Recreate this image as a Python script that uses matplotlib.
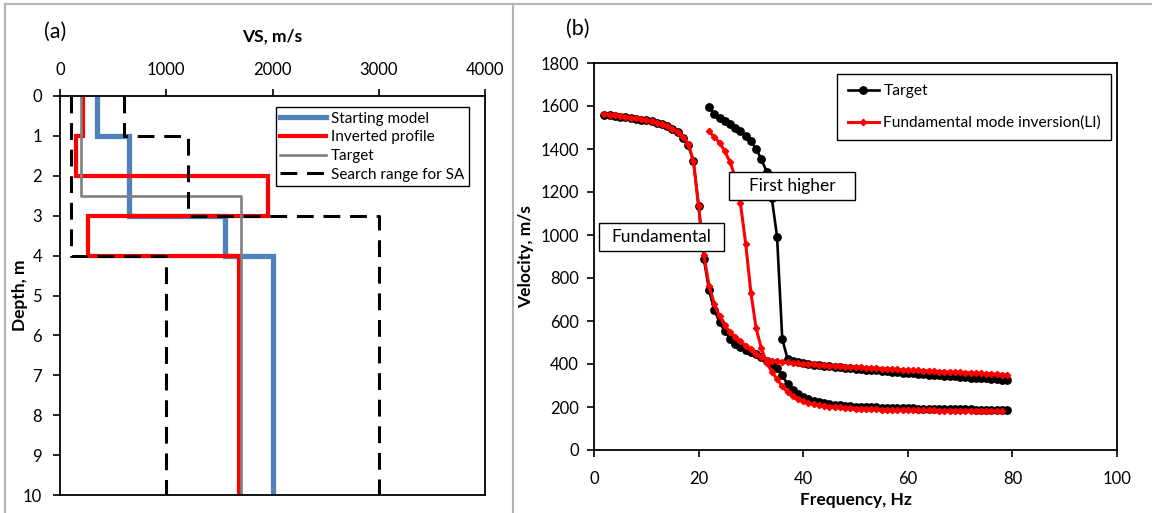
import numpy as np
import matplotlib
matplotlib.use("Agg")
import matplotlib.pyplot as plt
from matplotlib.lines import Line2D
from matplotlib.patches import Rectangle

plt.rcParams["font.family"] = ["Lato", "DejaVu Sans"]

# ---- panel (a): layered Vs profiles (layer tops in m, Vs in m/s)
start_tops = [0, 1, 3, 4]
start_vs = [350, 650, 1550, 2000]
inv_tops = [0, 1, 2, 3, 4]
inv_vs = [215, 150, 1960, 260, 1680]
target_tops = [0, 2.5]
target_vs = [195, 1700]
sa_low_tops = [0, 4]
sa_low_vs = [100, 1000]
sa_high_tops = [0, 1, 3]
sa_high_vs = [600, 1200, 3000]
max_depth = 10

# ---- panel (b): dispersion curves
freq_fund = list(range(2, 80))
target_fund = [
    1560, 1557, 1554, 1551, 1548, 1545, 1541, 1537, 1533, 1528,
    1522, 1515, 1506, 1494, 1477, 1452, 1418, 1345, 1135, 890,
    744, 651, 595, 552, 518, 494, 478, 467, 457, 446,
    432, 416, 400, 380, 347, 305, 279, 260, 246, 236,
    228, 222, 217, 213, 210, 207, 205, 203, 202, 201,
    200, 199, 198, 197, 197, 196, 195, 195, 194, 194,
    193, 193, 192, 192, 191, 191, 190, 190, 190, 189,
    189, 188, 188, 188, 187, 187, 187, 186,
]
li_fund = [
    1563, 1559, 1556, 1553, 1550, 1546, 1542, 1538, 1534, 1529,
    1523, 1516, 1507, 1495, 1478, 1455, 1425, 1346, 1135, 905,
    765, 680, 622, 580, 550, 525, 505, 486, 468, 448,
    431, 420, 415, 412, 410, 407, 405, 403, 401, 399,
    398, 396, 395, 393, 391, 390, 388, 387, 385, 384,
    383, 381, 380, 379, 377, 376, 375, 373, 372, 371,
    370, 369, 368, 366, 365, 364, 363, 362, 361, 360,
    359, 358, 356, 355, 354, 353, 351, 350,
]
freq_high = list(range(22, 80))
target_high = [
    1594, 1563, 1545, 1530, 1516, 1500, 1483, 1460, 1435, 1402,
    1352, 1295, 1170, 993, 515, 425, 412, 407, 403, 400,
    397, 394, 391, 389, 386, 384, 382, 380, 378, 376,
    374, 372, 370, 368, 366, 364, 362, 360, 358, 356,
    354, 352, 350, 349, 347, 346, 344, 342, 341, 339,
    337, 336, 334, 333, 331, 329, 327, 325,
]
freq_high_li = list(range(22, 79))
li_high = [
    1482, 1456, 1430, 1390, 1340, 1270, 1147, 960, 732, 566,
    473, 405, 365, 330, 296, 268, 250, 237, 226, 218,
    212, 207, 204, 202, 200, 198, 196, 194, 193, 192,
    191, 190, 189, 188, 187, 187, 186, 186, 185, 185,
    185, 184, 184, 184, 183, 183, 183, 183, 182, 182,
    182, 182, 182, 181, 181, 181, 181,
]


def step_profile(tops, vels, bottom):
    bottoms = list(tops[1:]) + [bottom]
    depth = np.column_stack([tops, bottoms]).ravel()
    vs = np.repeat(vels, 2)
    return vs, depth


def boxed_label(ax, text, x0, x1, y0, y1):
    ax.add_patch(Rectangle((x0, y0), x1 - x0, y1 - y0, fc="white", ec="black",
                           lw=1.0, zorder=5))
    ax.text((x0 + x1) / 2, (y0 + y1) / 2, text, fontsize=12.5, ha="center",
            va="center", zorder=6)


def place_labels(ax, x_pos, y_pos):
    ax.xaxis.set_label_coords(*x_pos)
    ax.yaxis.set_label_coords(*y_pos)
    ax.xaxis.label.set_va("center")
    ax.yaxis.label.set_va("center")


def plot_profiles(ax):
    x, y = step_profile(start_tops, start_vs, max_depth)
    ax.plot(x, y, color="#4F81BD", lw=3.8, label="Starting model", solid_joinstyle="miter")
    x, y = step_profile(inv_tops, inv_vs, max_depth)
    ax.plot(x, y, color="#FF0000", lw=3.0, label="Inverted profile", solid_joinstyle="miter")
    x, y = step_profile(target_tops, target_vs, max_depth)
    ax.plot(x, y, color="#808080", lw=1.9, label="Target")
    dash = dict(color="black", lw=2.2, dashes=(5.5, 3.2))
    x, y = step_profile(sa_low_tops, sa_low_vs, max_depth)
    ax.plot(x, y, label="Search range for SA", **dash)
    x, y = step_profile(sa_high_tops, sa_high_vs, max_depth)
    ax.plot(x, y, **dash)

    ax.set_xlim(0, 4000)
    ax.set_ylim(10, 0)
    ax.set_xticks([0, 1000, 2000, 3000, 4000])
    ax.set_yticks(range(0, 11))
    ax.xaxis.tick_top()
    ax.xaxis.set_label_position("top")
    ax.tick_params(direction="out", length=5, width=1.2, labelsize=12, pad=8)
    ax.set_xlabel("VS, m/s", fontweight="bold", fontsize=12.5)
    ax.set_ylabel("Depth, m", fontweight="bold", fontsize=12.5)
    place_labels(ax, (0.5, 1 + 59 / 399), (-40 / 425, 0.5))
    for s in ax.spines.values():
        s.set_linewidth(1.3)
    leg = ax.legend(loc="upper right", bbox_to_anchor=(0.962, 0.972), borderaxespad=0,
                    fontsize=11, handlelength=3.0, handletextpad=0.3,
                    labelspacing=0.3, borderpad=0.3, fancybox=False, framealpha=1)
    leg.get_frame().set_edgecolor("black")
    leg.get_frame().set_linewidth(1.0)


def plot_dispersion(ax):
    circ = dict(color="black", lw=1.9, marker="o", ms=5.3)
    dia = dict(color="#FF0000", lw=2.2, marker="D", ms=3.2)
    ax.plot(freq_fund, target_fund, label="Target", **circ)
    ax.plot(freq_high, target_high, **circ)
    ax.plot(freq_fund, li_fund, label="Fundamental mode inversion(LI)", **dia)
    ax.plot(freq_high_li, li_high, **dia)

    boxed_label(ax, "Fundamental", 0.9, 24.9, 927, 1057)
    boxed_label(ax, "First higher", 25.8, 49.9, 1163, 1293)

    ax.set_xlim(0, 100)
    ax.set_ylim(0, 1800)
    ax.set_xticks(range(0, 101, 20))
    ax.set_yticks(range(0, 1801, 200))
    ax.tick_params(direction="out", length=5, width=1.2, labelsize=12, pad=6)
    ax.tick_params(axis="x", pad=10)
    ax.set_xlabel("Frequency, Hz", fontweight="bold", fontsize=12.5)
    ax.set_ylabel("Velocity, m/s", fontweight="bold", fontsize=12.5)
    place_labels(ax, (0.5, -50 / 387), (-68 / 523, 0.5))
    for s in ax.spines.values():
        s.set_linewidth(1.3)
    leg = ax.legend(loc="upper right", bbox_to_anchor=(0.989, 0.972), borderaxespad=0,
                    fontsize=11.2, handlelength=2.0, handletextpad=0.3,
                    labelspacing=1.15, borderpad=0.65, fancybox=False, framealpha=1)
    leg.get_frame().set_edgecolor("black")
    leg.get_frame().set_linewidth(1.0)


def main():
    fig = plt.figure(figsize=(11.52, 5.13), dpi=100)
    W, H = 1152, 513

    ax_a = fig.add_axes([60 / W, 1 - 495 / H, 425 / W, 399 / H])
    ax_b = fig.add_axes([594 / W, 1 - 450 / H, 523 / W, 387 / H])
    plot_profiles(ax_a)
    plot_dispersion(ax_b)

    fig.text(55 / W, 1 - 32 / H, "(a)", fontsize=15.5, ha="center", va="center")
    fig.text(578 / W, 1 - 29 / H, "(b)", fontsize=15.5, ha="center", va="center")

    # grey panel frames
    frame = dict(color="#b4b4b4", lw=1.5, transform=fig.transFigure)
    fig.add_artist(Line2D([5 / W, 1], [1 - 4 / H, 1 - 4 / H], **frame))
    fig.add_artist(Line2D([5 / W, 5 / W], [0, 1 - 4 / H], **frame))
    fig.add_artist(Line2D([512.5 / W, 512.5 / W], [0, 1 - 4 / H], **frame))

    fig.savefig("out.png", dpi=100)


if __name__ == "__main__":
    main()
